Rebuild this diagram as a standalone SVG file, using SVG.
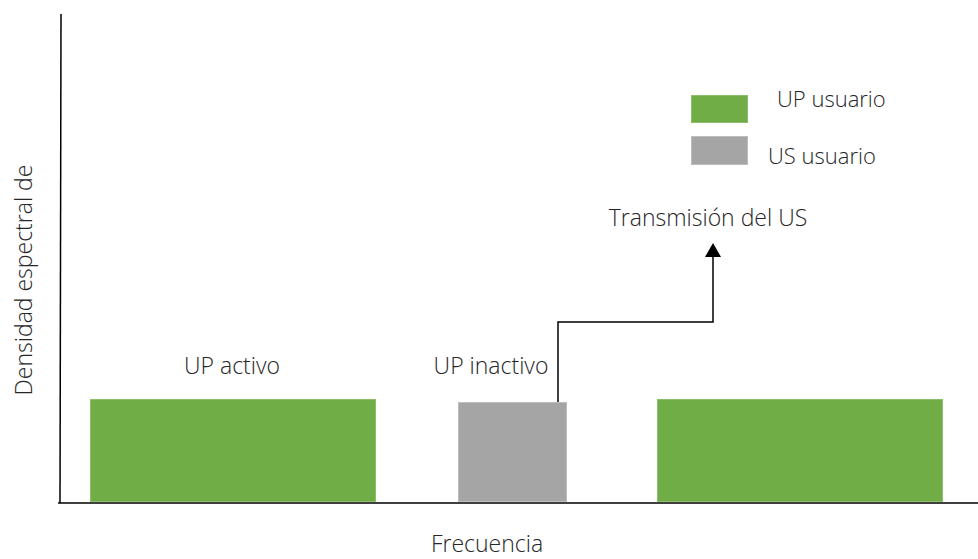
<svg xmlns="http://www.w3.org/2000/svg" width="978" height="559" viewBox="0 0 978 559">
  <defs>
    <!-- triangular head, drawn along +x so orient="auto" points it along the line -->
    <marker id="arrowhead" markerWidth="14" markerHeight="16" refX="0" refY="8" orient="auto" markerUnits="userSpaceOnUse" viewBox="0 0 14 16">
      <path d="M0,0 L14,8 L0,16 Z" fill="#000"/>
    </marker>
  </defs>
  <style>
    .lbl { font-family: "Open Sans", "Liberation Sans", sans-serif; font-size: 23px; font-weight: 300; fill: #262626; }
    .lbl.small { font-size: 22px; }
    .green { fill: #70AD47; stroke: #8cbf6b; stroke-width: 1; }
    .gray { fill: #A5A5A5; stroke: #bdbdbd; stroke-width: 1; }
    .axis { stroke: #000; stroke-width: 1.5; fill: none; }
    .conn { stroke: #000; stroke-width: 1.5; fill: none; }
  </style>
  <rect width="978" height="559" fill="#fff"/>

  <!-- axes -->
  <g id="axes">
    <line class="axis" x1="61" y1="14" x2="60" y2="503"/>
    <line class="axis" x1="58" y1="503" x2="978" y2="503"/>
    <text class="lbl" x="487" y="552" text-anchor="middle">Frecuencia</text>
    <text class="lbl" transform="translate(32,280) rotate(-90)" text-anchor="middle">Densidad espectral de</text>
  </g>

  <!-- spectrum bands -->
  <g id="band-up-activo">
    <rect class="green" x="90.5" y="399.5" width="285" height="102"/>
    <text class="lbl" x="232" y="374" text-anchor="middle">UP activo</text>
  </g>
  <g id="band-up-inactivo">
    <rect class="gray" x="458.5" y="402.5" width="108" height="99"/>
    <text class="lbl" x="491" y="374" text-anchor="middle">UP inactivo</text>
  </g>
  <g id="band-up-right">
    <rect class="green" x="657.5" y="399.5" width="285" height="102"/>
  </g>
  <g id="us-transmission">
    <text class="lbl" x="708" y="226" text-anchor="middle">Transmisión del US</text>
  </g>

  <!-- legend -->
  <g id="legend-up">
    <rect class="green" x="691.5" y="95.5" width="56" height="27"/>
    <text class="lbl small" x="777" y="107">UP usuario</text>
  </g>
  <g id="legend-us">
    <rect class="gray" x="691.5" y="136.5" width="56" height="28"/>
    <text class="lbl small" x="768" y="164">US usuario</text>
  </g>

  <!-- connectors -->
  <g id="connectors">
    <polyline class="conn" points="558,402 558,322 713,322 713,257" marker-end="url(#arrowhead)"/>
  </g>
</svg>
